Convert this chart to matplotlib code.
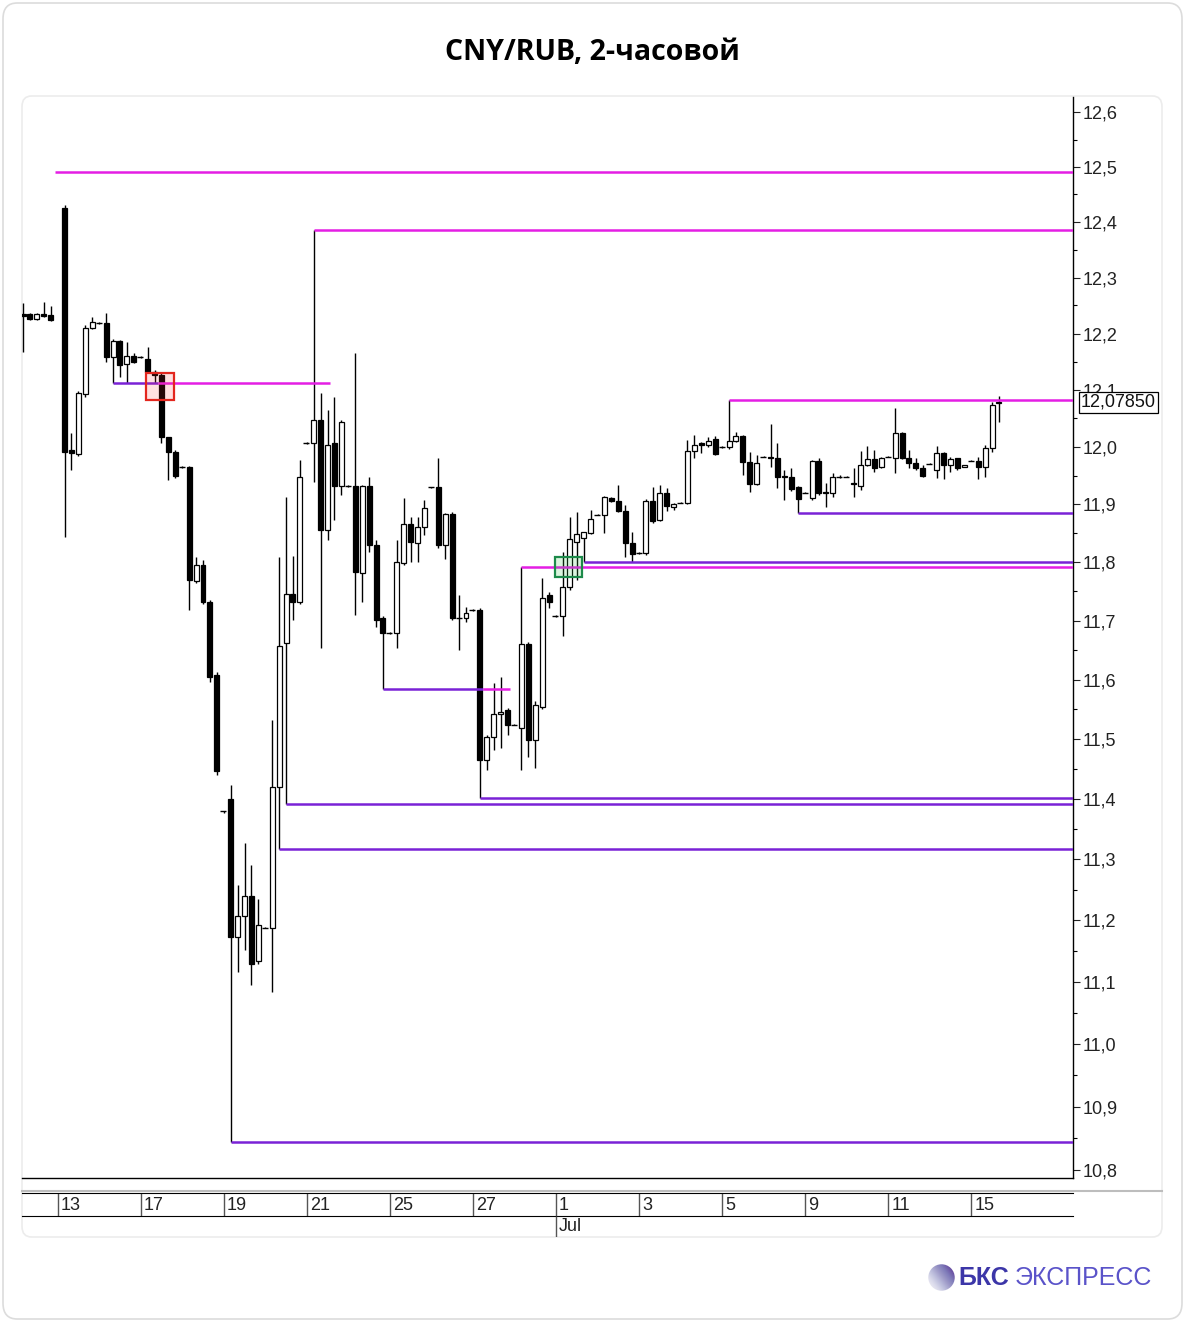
import numpy as np
import matplotlib.pyplot as plt
from matplotlib.patches import FancyBboxPatch, Rectangle, Circle
from matplotlib.ticker import FixedLocator, FuncFormatter, NullFormatter
import matplotlib.transforms as mtransforms

plt.rcParams['font.family'] = ['Liberation Sans', 'DejaVu Sans']

nan = np.nan

# 2-hour candles, one row per trading day (first candle of each day is the short morning one)
opens = [
    12.235, 12.235, 12.226, 12.235, 12.233,            # Jun 11
    nan, 12.426, 11.995, 11.988, 12.093, 12.210,         # Jun 13
    12.219, 12.219, 12.159, 12.187, 12.146, 12.160,      # Jun 14
    12.159, 12.155, 12.132, 12.127, 12.018, 11.991,      # Jun 17
    11.965, 11.965, 11.768, 11.796, 11.732, 11.608,      # Jun 18
    11.379, 11.400, 11.172, 11.207, 11.239, 11.133,      # Jun 19
    11.188, 11.188, 11.420, 11.662, 11.746, 11.732,      # Jun 20
    12.007, 12.007, 12.048, 11.856, 12.007, 11.932,      # Jun 21
    11.932, 11.932, 11.782, 11.932, 11.830, 11.705,      # Jun 24
    11.679, 11.679, 11.799, 11.866, 11.834, 11.861,      # Jun 25
    11.930, 11.930, 11.830, 11.884, 11.705, 11.705,      # Jun 26
    11.718, 11.718, 11.465, 11.504, 11.541, 11.549,      # Jun 27
    11.524, 11.519, 11.661, 11.499, 11.554, 11.744,      # Jun 28
    11.708, 11.708, 11.758, 11.835, 11.842, 11.851,      # Jul 1
    11.882, 11.882, 11.911, 11.906, 11.889, 11.834,      # Jul 2
    11.816, 11.816, 11.906, 11.873, 11.920, 11.896,      # Jul 3
    11.903, 11.903, 11.993, 12.007, 12.004, 12.014,      # Jul 4
    12.000, 12.000, 12.011, 12.019, 11.974, 11.936,      # Jul 5
    11.983, 11.983, 11.981, 11.950, 11.948, 11.930,      # Jul 8
    11.920, 11.911, 11.976, 11.922, 11.920, 11.948,      # Jul 9
    11.948, 11.937, 11.932, 11.969, 11.979, 11.965,      # Jul 10
    11.983, 11.981, 12.025, 11.981, 11.972, 11.964,      # Jul 11
    11.971, 11.960, 11.990, 11.969, 11.981, 11.965,      # Jul 12
    11.976, 11.976, 11.965, 11.998, 12.077,              # Jul 15
]
highs = [
    12.255, 12.237, 12.237, 12.257, 12.249,
    nan, 12.430, 12.025, 12.098, 12.216, 12.230,
    12.221, 12.237, 12.191, 12.189, 12.185, 12.166,
    12.160, 12.176, 12.136, 12.132, 12.018, 11.995,
    11.967, 11.967, 11.809, 11.804, 11.736, 11.613,
    11.380, 11.423, 11.258, 11.327, 11.291, 11.234,
    11.189, 11.532, 11.809, 11.913, 11.811, 11.978,
    12.008, 12.386, 12.095, 12.065, 12.088, 12.048,
    11.933, 12.166, 11.934, 11.948, 11.839, 11.708,
    11.680, 11.839, 11.911, 11.878, 11.878, 11.908,
    11.931, 11.981, 11.885, 11.887, 11.744, 11.724,
    11.719, 11.722, 11.507, 11.594, 11.605, 11.552,
    11.525, 11.792, 11.664, 11.563, 11.773, 11.749,
    11.709, 11.818, 11.878, 11.887, 11.852, 11.891,
    11.883, 11.915, 11.913, 11.934, 11.899, 11.852,
    11.817, 11.910, 11.930, 11.934, 11.929, 11.903,
    11.904, 12.012, 12.021, 12.009, 12.018, 12.019,
    12.001, 12.083, 12.026, 12.021, 11.991, 11.986,
    11.984, 12.041, 12.007, 11.960, 11.964, 11.932,
    11.921, 11.978, 11.981, 11.937, 11.955, 11.951,
    11.949, 11.964, 11.993, 12.002, 11.995, 11.983,
    11.984, 12.069, 12.026, 11.995, 11.981, 11.969,
    11.972, 12.002, 11.991, 11.983, 11.981, 11.969,
    11.977, 11.983, 12.004, 12.079, 12.090,
]
lows = [
    12.168, 12.224, 12.224, 12.230, 12.223,
    nan, 11.844, 11.960, 11.985, 12.088, 12.208,
    12.217, 12.150, 12.113, 12.123, 12.113, 12.148,
    12.157, 12.130, 12.113, 12.007, 11.943, 11.946,
    11.964, 11.718, 11.765, 11.729, 11.596, 11.440,
    11.377, 10.844, 11.116, 11.152, 11.095, 11.128,
    11.187, 11.084, 11.317, 11.392, 11.701, 11.729,
    12.006, 11.938, 11.654, 11.839, 11.873, 11.917,
    11.931, 11.710, 11.732, 11.818, 11.689, 11.584,
    11.678, 11.654, 11.796, 11.801, 11.801, 11.847,
    11.929, 11.825, 11.805, 11.701, 11.650, 11.698,
    11.717, 11.402, 11.448, 11.482, 11.485, 11.507,
    11.523, 11.448, 11.470, 11.452, 11.551, 11.722,
    11.707, 11.673, 11.753, 11.770, 11.801, 11.849,
    11.881, 11.851, 11.904, 11.887, 11.809, 11.801,
    11.815, 11.813, 11.868, 11.872, 11.889, 11.891,
    11.902, 11.901, 11.981, 11.990, 12.000, 11.986,
    11.999, 11.997, 12.009, 11.951, 11.922, 11.934,
    11.982, 11.965, 11.929, 11.908, 11.924, 11.885,
    11.919, 11.908, 11.917, 11.896, 11.913, 11.946,
    11.947, 11.913, 11.925, 11.967, 11.957, 11.964,
    11.982, 11.955, 11.979, 11.964, 11.960, 11.948,
    11.970, 11.946, 11.944, 11.957, 11.960, 11.965,
    11.975, 11.944, 11.948, 11.991, 12.044,
]
closes = [
    12.232, 12.226, 12.235, 12.232, 12.224,
    nan, 11.991, 11.990, 12.095, 12.210, 12.221,
    12.219, 12.159, 12.187, 12.145, 12.160, 12.150,
    12.159, 12.132, 12.127, 12.018, 11.991, 11.950,
    11.965, 11.770, 11.796, 11.732, 11.605, 11.447,
    11.379, 11.173, 11.207, 11.240, 11.129, 11.193,
    11.188, 11.420, 11.656, 11.746, 11.731, 11.948,
    12.007, 12.048, 11.856, 12.004, 11.932, 12.044,
    11.932, 11.784, 11.932, 11.830, 11.701, 11.679,
    11.679, 11.801, 11.866, 11.835, 11.861, 11.894,
    11.930, 11.830, 11.884, 11.705, 11.705, 11.713,
    11.718, 11.465, 11.504, 11.541, 11.546, 11.524,
    11.524, 11.661, 11.499, 11.557, 11.739, 11.732,
    11.708, 11.758, 11.840, 11.849, 11.852, 11.875,
    11.882, 11.913, 11.906, 11.889, 11.834, 11.815,
    11.816, 11.906, 11.872, 11.920, 11.897, 11.901,
    11.903, 11.993, 12.004, 12.004, 12.011, 11.988,
    12.000, 12.011, 12.019, 11.974, 11.936, 11.972,
    11.983, 11.981, 11.948, 11.948, 11.927, 11.910,
    11.920, 11.976, 11.920, 11.920, 11.948, 11.948,
    11.948, 11.936, 11.969, 11.979, 11.964, 11.981,
    11.983, 12.025, 11.981, 11.972, 11.964, 11.950,
    11.971, 11.990, 11.969, 11.979, 11.964, 11.969,
    11.976, 11.965, 11.998, 12.074, 12.0785,
]
last_price = 12.0785

# date axis: candle slot of the first bar of the labelled day
date_slots = [5, 17, 29, 41, 53, 65, 77, 89, 101, 113, 125, 137]
date_labels = ["13", "17", "19", "21", "25", "27", "1", "3", "5", "9", "11", "15"]
month_slot = 77
month_label = "Jul"

# support / resistance levels: price, first candle, last candle (None = to the right edge), kind
level_prices = [12.491, 12.386, 12.113, 12.113, 12.083, 11.885, 11.801, 11.792,
                11.584, 11.584, 11.402, 11.392, 11.317, 10.844]
level_start = [4.6, 42, 13, 19.5, 102, 112, 81, 72, 52, 66.5, 66, 38, 37, 30]
level_end = [None, None, 19.5, 44.3, None, None, None, None, 66.5, 70.3,
             None, None, None, None]
level_kind = ["m", "m", "p", "m", "m", "p", "p", "m", "p", "m", "p", "p", "p", "p"]

# highlighted zones: first slot, last slot, low price, high price
red_zone = (17.8, 21.8, 12.083, 12.130)
green_zone = (76.9, 80.8, 11.775, 11.809)

W, H = 1185, 1322
fig = plt.figure(figsize=(W / 100, H / 100), dpi=100)


def fx(px):
    return px / W


def fy(py):
    return 1 - py / H


# outer card and inner panel
fig.patches.append(FancyBboxPatch((fx(3), fy(1319)), fx(1179), 1316 / H,
                                  boxstyle="round,pad=0,rounding_size=0.012",
                                  transform=fig.transFigure, facecolor='white',
                                  edgecolor='#dcdcdc', lw=1.2, zorder=-3))
fig.patches.append(FancyBboxPatch((fx(22), fy(1237)), fx(1140), 1141 / H,
                                  boxstyle="round,pad=0,rounding_size=0.008",
                                  transform=fig.transFigure, facecolor='white',
                                  edgecolor='#ececec', lw=1.2, zorder=-2))

fig.text(0.5, fy(52), "CNY/RUB, 2-часовой", ha='center', va='center',
         fontsize=20.5, fontweight='bold', family=['Open Sans', 'DejaVu Sans'])

xmin, xmax = -0.15, 151.7
ax = fig.add_axes([fx(22), fy(1178), fx(1073 - 22), (1178 - 97) / H])
ax.patch.set_alpha(0)

o = np.array(opens)
hi = np.array(highs)
lo = np.array(lows)
c = np.array(closes)
idx = np.arange(len(o))
ok = ~np.isnan(o)
up = ok & (c > o)
dn = ok & (c < o)
flat = ok & (c == o)
bw = 0.72

ax.vlines(idx[ok], lo[ok], hi[ok], color='black', lw=1.0, zorder=2)
ax.bar(idx[up], (c - o)[up], bottom=o[up], width=bw, facecolor='white',
       edgecolor='black', lw=0.9, zorder=3)
ax.bar(idx[dn], (o - c)[dn], bottom=c[dn], width=bw, facecolor='black',
       edgecolor='black', lw=0.9, zorder=3)
ax.hlines(o[flat], idx[flat] - bw / 2 - 0.15, idx[flat] + bw / 2, color='black',
          lw=1.0, zorder=3)

colors = {"m": "#e41ee4", "p": "#7a22d6"}
for p, s, e, k in zip(level_prices, level_start, level_end, level_kind):
    ax.hlines(p, s, xmax if e is None else e, color=colors[k], lw=1.8, zorder=4)

x0, x1, y0, y1 = red_zone
ax.add_patch(Rectangle((x0, y0), x1 - x0, y1 - y0, facecolor=(1, 0.2, 0.2, 0.15),
                       edgecolor='#e3261e', lw=1.6, zorder=5))
x0, x1, y0, y1 = green_zone
ax.add_patch(Rectangle((x0, y0), x1 - x0, y1 - y0, facecolor=(0.2, 0.8, 0.3, 0.18),
                       edgecolor='#1d8a4a', lw=1.6, zorder=5))

ax.set_xlim(xmin, xmax)
ax.set_yscale('log')
ax.set_ylim(10.787, 12.628)
major = np.round(np.arange(10.8, 12.61, 0.1), 2)
minor = np.round(np.arange(10.85, 12.6, 0.1), 2)
ax.yaxis.set_major_locator(FixedLocator(major))
ax.yaxis.set_minor_locator(FixedLocator(minor))
ax.yaxis.set_major_formatter(FuncFormatter(lambda v, pos: f"{v:.1f}".replace('.', ',')))
ax.yaxis.set_minor_formatter(NullFormatter())
ax.yaxis.tick_right()
ax.tick_params(axis='y', which='major', direction='out', length=5, width=0.8,
               labelsize=13, pad=2, colors='#222222')
ax.tick_params(axis='y', which='minor', direction='out', length=3, width=0.8)
ax.set_xticks([])
for side in ('left', 'top'):
    ax.spines[side].set_visible(False)
ax.spines['right'].set_linewidth(1.0)
ax.spines['bottom'].set_linewidth(1.0)

# current price label
tr = mtransforms.blended_transform_factory(ax.transAxes, ax.transData)
ax.text(1.0075, last_price, f"{last_price:.5f}".replace('.', ','), transform=tr,
        ha='left', va='center', fontsize=13, color='#111111', zorder=10,
        clip_on=False,
        bbox=dict(boxstyle='square,pad=0.1', facecolor='white', edgecolor='black', lw=0.9))

# gray separator above the date strip
fig.add_artist(plt.Line2D([fx(22), fx(1162)], [fy(1191), fy(1191)], color='#bdbdbd', lw=1.5))

# date strip
axd = fig.add_axes([fx(22), fy(1216), fx(1073 - 22), 23 / H])
axd.patch.set_alpha(0)
axd.set_xlim(xmin, xmax)
axd.set_ylim(0, 1)
axd.set_xticks([])
axd.set_yticks([])
axd.spines['left'].set_visible(False)
axd.spines['right'].set_visible(False)
axd.vlines(date_slots, 0, 1, color='#555555', lw=1.0)
for s, lab in zip(date_slots, date_labels):
    axd.text(s + 0.45, 0.45, lab, ha='left', va='center', fontsize=13, color='#222222')

axm = fig.add_axes([fx(22), fy(1237), fx(1073 - 22), 21 / H])
axm.set_xlim(xmin, xmax)
axm.set_ylim(0, 1)
axm.axis('off')
axm.vlines([month_slot], 0, 1, color='#555555', lw=1.0)
axm.text(month_slot + 0.45, 0.5, month_label, ha='left', va='center', fontsize=13,
         color='#222222')

# logo
axl = fig.add_axes([fx(928), fy(1291), 27 / W, 27 / H])
axl.axis('off')
gx, gy = np.meshgrid(np.linspace(-1, 1, 120), np.linspace(-1, 1, 120))
shade = np.clip(0.5 + 0.45 * (gx * 0.8 - gy * 0.6), 0, 1)
img = axl.imshow(shade, cmap='Purples', vmin=-0.2, vmax=1.3, extent=(-1, 1, -1, 1),
                 origin='upper')
clip = Circle((0, 0), 0.98, transform=axl.transData)
img.set_clip_path(clip)
axl.set_xlim(-1, 1)
axl.set_ylim(-1, 1)

fig.text(fx(958), fy(1278), "БКС", ha='left', va='center', fontsize=18,
         fontweight='bold', color='#3c36a8')
fig.text(fx(1015), fy(1278), "ЭКСПРЕСС", ha='left', va='center', fontsize=18,
         color='#5a53c9')

fig.savefig('out.png', dpi=100)
